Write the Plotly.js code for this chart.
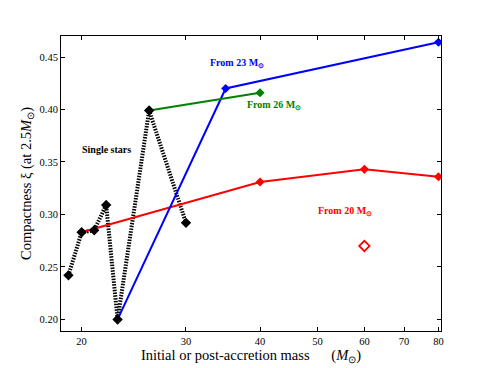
<!DOCTYPE html>
<html>
<head>
<meta charset="utf-8">
<script src="https://cdn.plot.ly/plotly-3.0.1.min.js"></script>
<style>
  body { margin: 0; background: #fff; }
  #chart { width: 491px; height: 368px; }
</style>
</head>
<body>
<div id="chart"></div>
<script>
// single stars (black dotted)
var singleMass = [19, 20, 21, 22, 23, 26, 30];
var singleXi = [0.242, 0.283, 0.285, 0.309, 0.200, 0.399, 0.292];

// accretion tracks
var from20Mass = [20, 40, 60, 80];
var from20Xi = [0.283, 0.331, 0.343, 0.336];
var from23Mass = [23, 35, 80];
var from23Xi = [0.200, 0.420, 0.464];
var from26Mass = [26, 40];
var from26Xi = [0.399, 0.416];

// open point
var openMass = [60];
var openXi = [0.270];

var serif = 'Liberation Serif, Times New Roman, serif';
var sun = '<sub>\u2299</sub>';

var data = [
    {
        x: singleMass, y: singleXi,
        mode: 'lines', type: 'scatter',
        line: { color: '#000', width: 4, dash: '1.5px,1.3px' },
        hoverinfo: 'skip'
    },
    {
        x: from20Mass, y: from20Xi,
        mode: 'lines+markers', type: 'scatter',
        line: { color: '#ff0000', width: 2 },
        marker: { symbol: 'diamond', size: 7, color: '#ff0000' }
    },
    {
        x: from23Mass, y: from23Xi,
        mode: 'lines+markers', type: 'scatter',
        line: { color: '#0000ff', width: 2 },
        marker: { symbol: 'diamond', size: 7, color: '#0000ff' }
    },
    {
        x: from26Mass, y: from26Xi,
        mode: 'lines+markers', type: 'scatter',
        line: { color: '#008000', width: 2 },
        marker: { symbol: 'diamond', size: 7, color: '#008000' }
    },
    {
        x: singleMass, y: singleXi,
        mode: 'markers', type: 'scatter',
        marker: { symbol: 'diamond', size: 8, color: '#000' }
    },
    {
        x: openMass, y: openXi,
        mode: 'markers', type: 'scatter',
        marker: { symbol: 'diamond-open', size: 8, color: '#ff0000', line: { width: 1.8 } }
    }
];

function note(text, m, xi, color) {
    return {
        text: '<b>' + text + '</b>',
        x: Math.log10(m), y: xi, xref: 'x', yref: 'y',
        showarrow: false,
        font: { family: serif, size: 10, color: color }
    };
}

var layout = {
    width: 491,
    height: 368,
    margin: { l: 61, r: 50, t: 36, b: 37 },
    paper_bgcolor: '#fff',
    plot_bgcolor: '#fff',
    showlegend: false,
    font: { family: serif, color: '#000' },
    xaxis: {
        type: 'log',
        range: [Math.log10(18.46), Math.log10(80.8)],
        tickvals: [20, 30, 40, 50, 60, 70, 80],
        ticktext: ['20', '30', '40', '50', '60', '70', '80'],
        ticks: 'inside', ticklen: 4, tickcolor: '#000',
        showline: true, linecolor: '#000', linewidth: 1, mirror: 'ticks',
        showgrid: false, zeroline: false,
        tickfont: { family: serif, size: 10.5 },
        title: {
            text: 'Initial or post-accretion mass\u00a0\u00a0\u00a0\u00a0\u00a0\u00a0(<i>M</i>' + sun + ')',
            font: { family: serif, size: 14.5 },
            standoff: 1
        }
    },
    yaxis: {
        range: [0.189, 0.47],
        tickvals: [0.20, 0.25, 0.30, 0.35, 0.40, 0.45],
        ticktext: ['0.20', '0.25', '0.30', '0.35', '0.40', '0.45'],
        ticks: 'inside', ticklen: 4, tickcolor: '#000',
        showline: true, linecolor: '#000', linewidth: 1, mirror: 'ticks',
        showgrid: false, zeroline: false,
        tickfont: { family: serif, size: 10.5 },
        title: {
            text: 'Compactness \u03be (at 2.5<i>M</i>' + sun + ')',
            font: { family: serif, size: 14.5 },
            standoff: 4
        }
    },
    annotations: [
        note('From 23 M' + sun, 36.6, 0.444, '#0000ff'),
        note('From 26 M' + sun, 42.2, 0.404, '#008000'),
        note('Single stars', 22.0, 0.362, '#000'),
        note('From 20 M' + sun, 55.6, 0.303, '#ff0000')
    ]
};

Plotly.newPlot('chart', data, layout, { displayModeBar: false, staticPlot: true });
</script>
</body>
</html>
